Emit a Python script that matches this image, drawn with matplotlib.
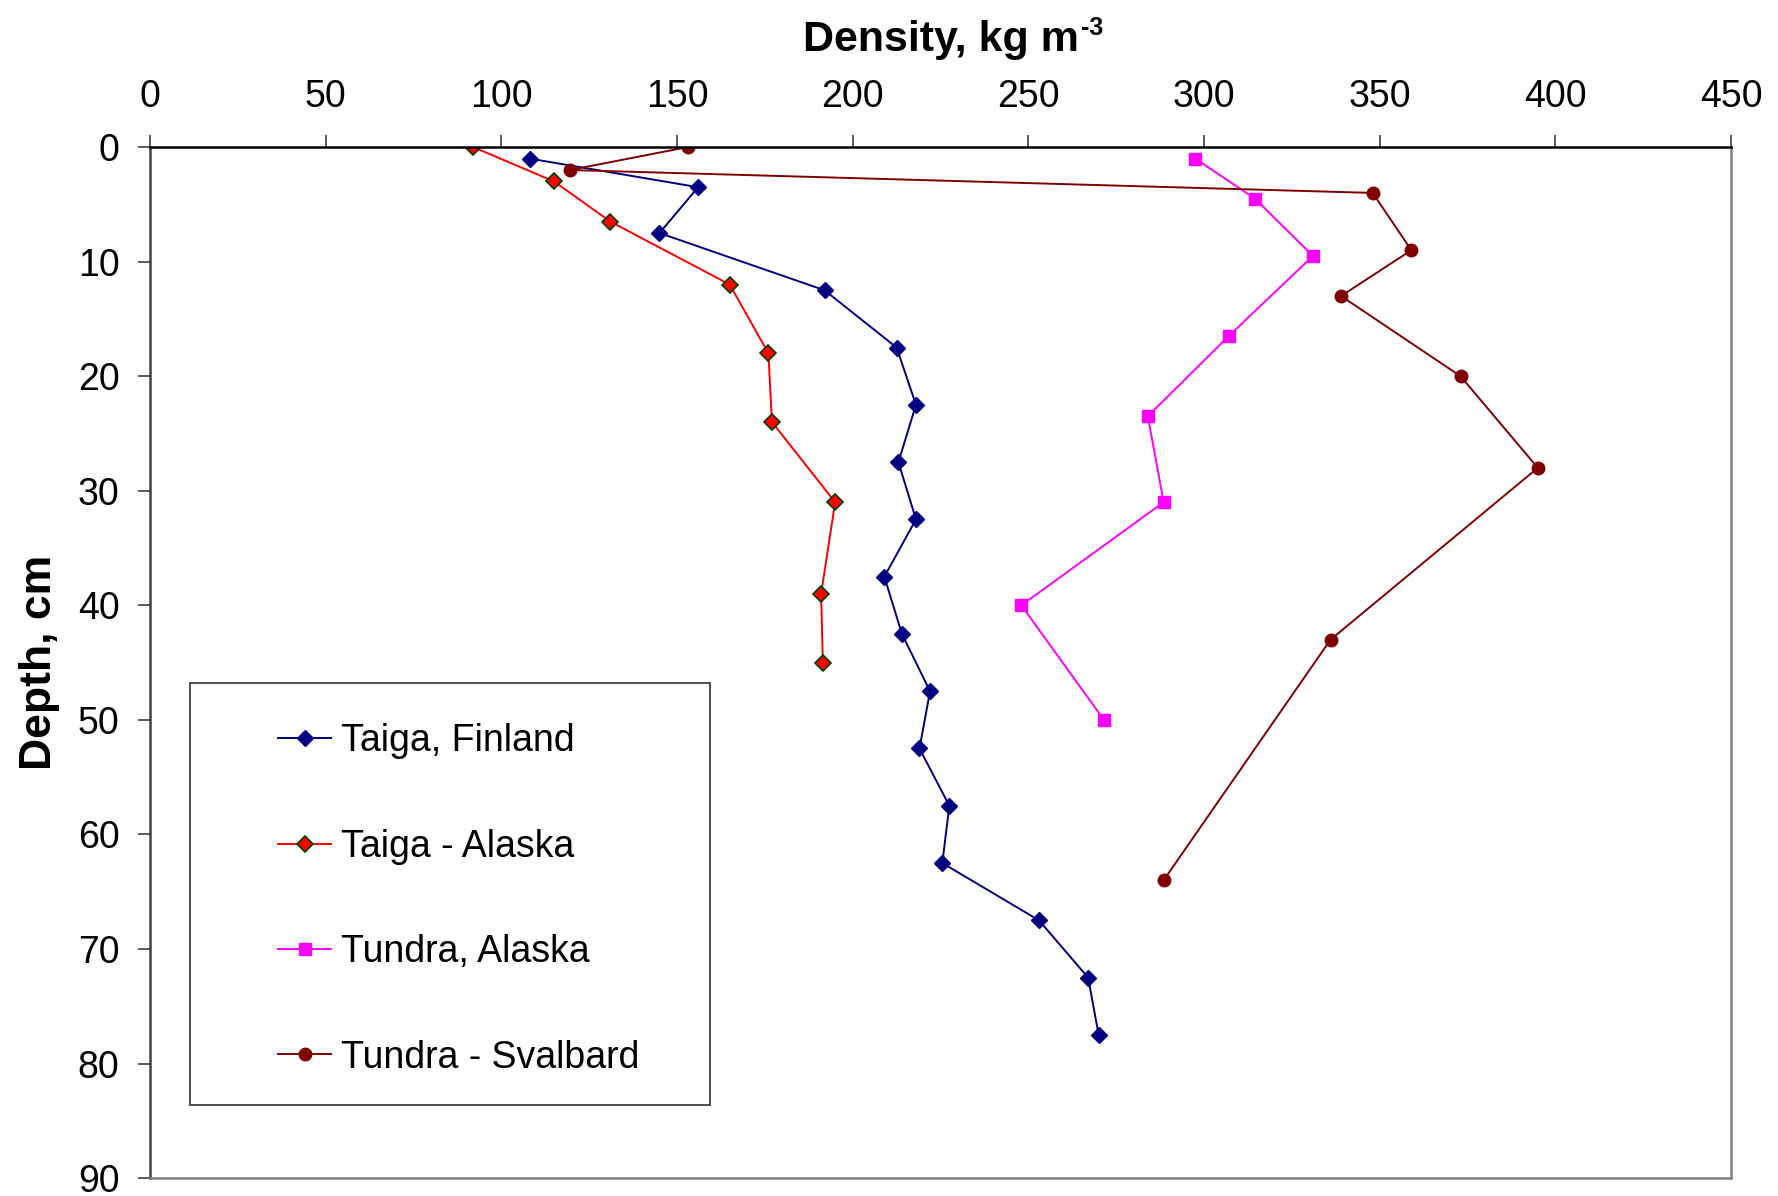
import matplotlib.pyplot as plt
from matplotlib.patches import Rectangle

plt.rcParams['font.family'] = ['Liberation Sans', 'DejaVu Sans']

# density (kg m-3) vs depth (cm)
finland_density = [108, 156, 145, 192, 212.5, 218, 213, 218, 209, 214, 222, 219, 227.5, 225.5, 253, 267, 270]
finland_depth = [1, 3.5, 7.5, 12.5, 17.5, 22.5, 27.5, 32.5, 37.5, 42.5, 47.5, 52.5, 57.5, 62.5, 67.5, 72.5, 77.5]

taiga_ak_density = [92, 115, 131, 165, 176, 177, 195, 191, 191.5]
taiga_ak_depth = [0, 3, 6.5, 12, 18, 24, 31, 39, 45]

tundra_ak_density = [297.5, 314.5, 331, 307, 284, 288.5, 248, 271.5]
tundra_ak_depth = [1, 4.5, 9.5, 16.5, 23.5, 31, 40, 50]

svalbard_density = [153, 119.5, 348, 359, 339, 373, 395, 336, 288.5]
svalbard_depth = [0, 2, 4, 9, 13, 20, 28, 43, 64]

x_ticks = [0, 50, 100, 150, 200, 250, 300, 350, 400, 450]
y_ticks = [0, 10, 20, 30, 40, 50, 60, 70, 80, 90]

fig = plt.figure(figsize=(17.78, 11.96), dpi=100)
ax = fig.add_axes([0.0844, 0.015, 0.8892, 0.862])

ax.plot(finland_density, finland_depth, color='#000080', lw=1.4, marker='D',
        ms=8.5, mfc='#000080', mec='#000080', label='Taiga, Finland')
ax.plot(taiga_ak_density, taiga_ak_depth, color='#FF0000', lw=1.4, marker='D',
        ms=8.5, mfc='#FF0000', mec='#004000', mew=1.2, label='Taiga - Alaska')
ax.plot(tundra_ak_density, tundra_ak_depth, color='#FF00FF', lw=1.4, marker='s',
        ms=8.5, mfc='#FF00FF', mec='#FF00FF', label='Tundra, Alaska')
ax.plot(svalbard_density, svalbard_depth, color='#800000', lw=1.4, marker='o',
        ms=9, mfc='#800000', mec='#800000', label='Tundra - Svalbard')

ax.set_xlim(0, 450)
ax.set_ylim(90, 0)
ax.set_xticks(x_ticks)
ax.set_yticks(y_ticks)
ax.xaxis.tick_top()
ax.xaxis.set_label_position('top')
ax.tick_params(axis='both', labelsize=27, length=9, width=1.2, color='#404040')
ax.tick_params(axis='x', pad=14)
ax.tick_params(axis='y', pad=13)

ax.set_xlabel('Density, kg m', fontsize=31, fontweight='bold', labelpad=20)
ax.set_ylabel('Depth, cm', fontsize=32, fontweight='bold', labelpad=13)

for side in ['top', 'left', 'right', 'bottom']:
    ax.spines[side].set_linewidth(1.8)
ax.spines['top'].set_color('black')
ax.spines['left'].set_color('#404040')
ax.spines['right'].set_color('#808080')
ax.spines['bottom'].set_color('#808080')

# legend without its own frame, plus a plain box like the original
leg = ax.legend(loc='upper left', bbox_to_anchor=(0.081, 0.441), fontsize=27,
                frameon=False, handlelength=1.42, handletextpad=0.25,
                labelspacing=1.85, borderpad=0, borderaxespad=0)
ax.add_patch(Rectangle((0.025, 0.071), 0.329, 0.409, transform=ax.transAxes,
                       fill=False, edgecolor='#303030', lw=1.2, zorder=5))

# superscript "-3" after the x label
fig.canvas.draw()
bb = ax.xaxis.label.get_window_extent()
fig.text((bb.x1 + 3) / fig.bbox.width, (bb.y1 + 4) / fig.bbox.height, '-3',
         fontsize=18, fontweight='bold', va='top', ha='left')

fig.savefig('out.png', dpi=100)
